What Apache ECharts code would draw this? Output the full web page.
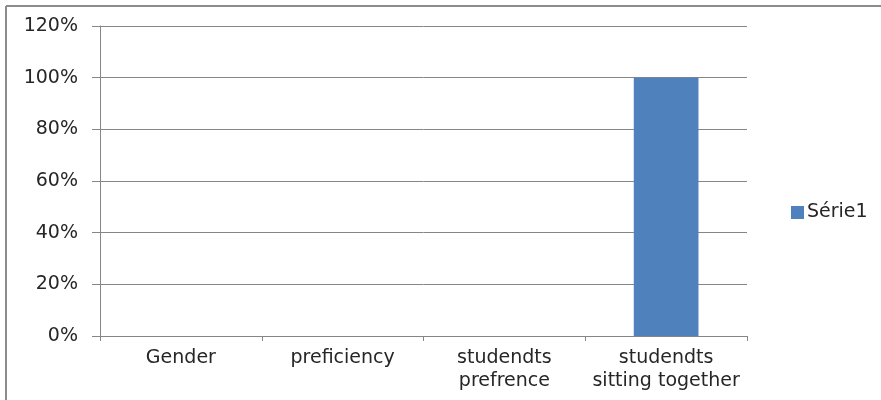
<!DOCTYPE html>
<html>
<head>
<meta charset="utf-8">
<script src="https://cdn.jsdelivr.net/npm/echarts@6/dist/echarts.min.js"></script>
<style>
  html, body { margin: 0; padding: 0; background: #fff; }
  #chart { width: 881px; height: 400px; }
</style>
</head>
<body>
<div id="chart"></div>
<script>
// Categories and values (share of responses, %)
const categories = ['Gender', 'preficiency', 'studendts\nprefrence', 'studendts\nsitting together'];
const serie1 = [0, 0, 0, 100];
const seriesName = 'Série1';
const yTicks = [0, 20, 40, 60, 80, 100, 120];

const FONT = '"DejaVu Sans", sans-serif';
const FONT_SIZE = 19;
const TEXT_COLOR = '#262626';
const AXIS_GRAY = '#868686';

const chart = echarts.init(document.getElementById('chart'), null, { renderer: 'canvas' });

chart.setOption({
  animation: false,
  backgroundColor: '#fff',
  textStyle: { fontFamily: FONT },
  graphic: [
    // chart frame (top and left edges visible)
    { type: 'line', shape: { x1: 6, y1: 6, x2: 881, y2: 6 }, style: { stroke: '#8c8c8c', lineWidth: 2 } },
    { type: 'line', shape: { x1: 6, y1: 6, x2: 6, y2: 400 }, style: { stroke: '#8c8c8c', lineWidth: 2 } }
  ],
  grid: { left: 100, top: 26, width: 647, height: 310, containLabel: false },
  legend: {
    data: [seriesName],
    left: 786,
    top: 198,
    itemWidth: 13,
    itemHeight: 13,
    itemGap: 5,
    icon: 'rect',
    textStyle: { fontFamily: FONT, fontSize: FONT_SIZE, color: TEXT_COLOR, padding: [0, 0, 0, -2] }
  },
  xAxis: {
    type: 'category',
    data: categories,
    axisLine: { lineStyle: { color: AXIS_GRAY, width: 1 } },
    axisTick: { show: true, length: 5, alignWithLabel: false, lineStyle: { color: AXIS_GRAY } },
    axisLabel: { fontFamily: FONT, fontSize: FONT_SIZE, color: TEXT_COLOR, margin: 11, lineHeight: 23, interval: 0 },
    splitLine: { show: false }
  },
  yAxis: {
    type: 'value',
    min: yTicks[0],
    max: yTicks[yTicks.length - 1],
    interval: 20,
    axisLine: { show: true, lineStyle: { color: AXIS_GRAY, width: 1 } },
    axisTick: { show: true, length: 8, lineStyle: { color: AXIS_GRAY } },
    axisLabel: { fontFamily: FONT, fontSize: FONT_SIZE, color: TEXT_COLOR, margin: 22, formatter: v => v + '%' },
    splitLine: { show: true, lineStyle: { color: AXIS_GRAY, width: 1 } }
  },
  series: [{
    name: seriesName,
    type: 'bar',
    data: serie1,
    barWidth: '40%',
    itemStyle: { color: '#4F81BD' }
  }]
});
</script>
</body>
</html>
